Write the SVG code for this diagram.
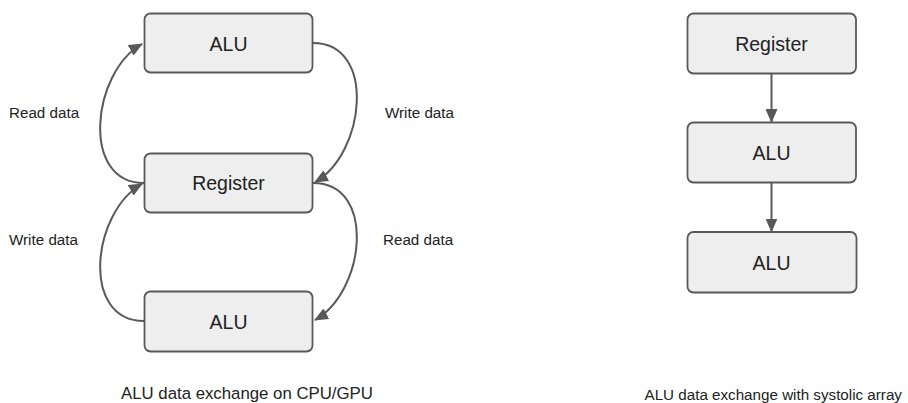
<svg xmlns="http://www.w3.org/2000/svg" width="908" height="403" viewBox="0 0 908 403">
<style>
.box{fill:#eeeeee;stroke:#595959;stroke-width:1.8}
.lbl{font-family:"Liberation Sans",Arial,sans-serif;fill:#222222}
.node{font-size:19.5px;text-anchor:middle}
.edge{font-size:15.2px}
.cap{font-size:16.8px}
.con{fill:none;stroke:#595959;stroke-width:2}
</style>
<defs>
<marker id="ah" markerUnits="userSpaceOnUse" markerWidth="14" markerHeight="12" viewBox="0 0 14 12" refX="13" refY="6" orient="auto">
<path d="M0,0 L14,6 L0,12 Z" fill="#595959"/>
</marker>
</defs>
<g id="connectors">
<path class="con" d="M144 183 C80 183 92 72 142 44" marker-end="url(#ah)"/>
<path class="con" d="M144 321 C80 321 92 212 142 184" marker-end="url(#ah)"/>
<path class="con" d="M313 43 C377 43 365 154 315 182" marker-end="url(#ah)"/>
<path class="con" d="M313 183 C377 183 365 292 315 320" marker-end="url(#ah)"/>
<path class="con" d="M771.5 73 L771.5 122" marker-end="url(#ah)"/>
<path class="con" d="M771.5 183 L771.5 231.5" marker-end="url(#ah)"/>
</g>
<g id="label-read-left"><text class="lbl edge" x="9" y="118">Read data</text></g>
<g id="label-write-left"><text class="lbl edge" x="9" y="245">Write data</text></g>
<g id="label-write-right"><text class="lbl edge" x="385" y="118">Write data</text></g>
<g id="label-read-right"><text class="lbl edge" x="383" y="245">Read data</text></g>
<g id="alu-top"><rect class="box" x="144.5" y="13.5" width="168" height="59" rx="6"/><text class="lbl node" x="228.5" y="50.5">ALU</text></g>
<g id="register-left"><rect class="box" x="144.5" y="153.5" width="168" height="59" rx="6"/><text class="lbl node" x="228.5" y="190">Register</text></g>
<g id="alu-bottom"><rect class="box" x="144.5" y="291.5" width="168" height="60" rx="6"/><text class="lbl node" x="228.5" y="328.5">ALU</text></g>
<g id="register-right"><rect class="box" x="687.5" y="13.5" width="168.5" height="60" rx="6"/><text class="lbl node" x="771.5" y="50.5">Register</text></g>
<g id="alu-mid-right"><rect class="box" x="687.5" y="122.5" width="168.5" height="60" rx="6"/><text class="lbl node" x="771.5" y="160">ALU</text></g>
<g id="alu-bottom-right"><rect class="box" x="687.5" y="232" width="169" height="60.5" rx="6"/><text class="lbl node" x="771.5" y="269.5">ALU</text></g>
<g id="caption-left"><text class="lbl cap" x="121" y="399">ALU data exchange on CPU/GPU</text></g>
<g id="caption-right"><text class="lbl" style="font-size:15.2px" x="644.5" y="399.5">ALU data exchange with systolic array</text></g>
</svg>
